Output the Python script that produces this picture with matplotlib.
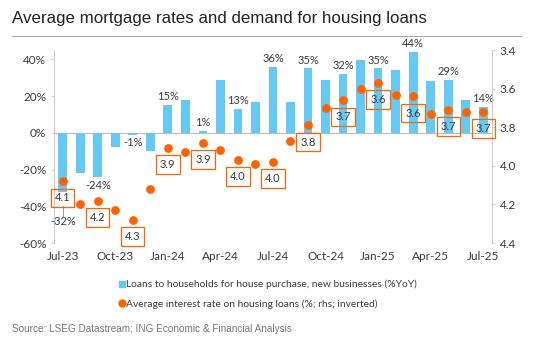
import matplotlib.pyplot as plt
from matplotlib.lines import Line2D
import numpy as np

months = ['Jul-23', 'Aug-23', 'Sep-23', 'Oct-23', 'Nov-23', 'Dec-23',
          'Jan-24', 'Feb-24', 'Mar-24', 'Apr-24', 'May-24', 'Jun-24',
          'Jul-24', 'Aug-24', 'Sep-24', 'Oct-24', 'Nov-24', 'Dec-24',
          'Jan-25', 'Feb-25', 'Mar-25', 'Apr-25', 'May-25', 'Jun-25', 'Jul-25']
loans_yoy = [-32, -22, -24, -7.5, -1, -10,
             15, 18, 1, 29, 13, 17,
             36, 17, 35, 29, 32, 39.5,
             35, 34, 44, 28, 29, 18, 14]
rate = [4.08, 4.20, 4.18, 4.23, 4.28, 4.12,
        3.905, 3.93, 3.88, 3.92, 3.97, 3.99,
        3.98, 3.87, 3.79, 3.70, 3.66, 3.60,
        3.57, 3.635, 3.64, 3.73, 3.71, 3.72, 3.72]
tick_labels = ['Jul-23', 'Oct-23', 'Jan-24', 'Apr-24', 'Jul-24',
               'Oct-24', 'Jan-25', 'Apr-25', 'Jul-25']

blue = '#66C9F4'
orange = '#FF6200'
txt = '#3a3a3a'
plt.rcParams['font.family'] = ['Lato', 'DejaVu Sans']

fig = plt.figure(figsize=(5.33, 3.53), dpi=100)
ax = fig.add_axes([0.1013, 0.3116, 0.8217, 0.5464])
ax2 = ax.twinx()
ax.set_zorder(ax2.get_zorder() - 1)
ax2.patch.set_visible(False)

x = np.arange(len(months))
ax.bar(x, loans_yoy, width=0.5, color=blue, zorder=2)
ax.axhline(0, color='#bbbbbb', lw=0.8, zorder=1)
ax.set_ylim(-60, 45)
ax.set_xlim(-0.5, len(months) - 0.5)
ax.set_yticks([-60, -40, -20, 0, 20, 40])
ax.set_yticklabels([f'{v}%' for v in [-60, -40, -20, 0, 20, 40]])
ax.set_xticks([months.index(m) for m in tick_labels])
ax.set_xticklabels(tick_labels)

# bar labels on every other month
for i in range(0, len(months), 2):
    v = loans_yoy[i]
    if i == 0:
        # first label sits under the rate box, with a small leader line
        ax.plot([i, i], [v - 8, v - 14], color='#999999', lw=0.7, zorder=3)
        ax.text(i, v - 13.5, f'{v:.0f}%', ha='center', va='top', fontsize=8, color=txt)
    elif v >= 0:
        ax.annotate(f'{v:.0f}%', (i, v), xytext=(0, 2), textcoords='offset points',
                    ha='center', va='bottom', fontsize=8, color=txt)
    else:
        ax.annotate(f'{v:.0f}%', (i, v), xytext=(0, -2), textcoords='offset points',
                    ha='center', va='top', fontsize=8, color=txt)

ax2.scatter(x, rate, s=40, color=orange, zorder=4, linewidths=0)
ax2.set_ylim(4.4, 3.4)
ax2.set_yticks([3.4, 3.6, 3.8, 4.0, 4.2, 4.4])
ax2.set_yticklabels(['3.4', '3.6', '3.8', '4.0', '4.2', '4.4'])
for i in range(0, len(months), 2):
    ax2.annotate(f'{rate[i]:.1f}', (i, rate[i]), xytext=(0, -12), textcoords='offset points',
                 ha='center', va='center', fontsize=8, color=txt,
                 bbox=dict(boxstyle='square,pad=0.35', fc='none', ec=orange, lw=0.9))

for a in (ax, ax2):
    for s in ('top', 'bottom', 'left', 'right'):
        a.spines[s].set_visible(False)
    a.tick_params(colors=txt, labelsize=8.5, length=2, width=0.6)
    a.tick_params(axis='y', color='#cccccc')
ax.spines['left'].set_visible(True)
ax.spines['left'].set_color('#cccccc')
ax2.spines['right'].set_visible(True)
ax2.spines['right'].set_color('#cccccc')
ax.tick_params(axis='x', length=0, pad=6)

handles = [Line2D([], [], marker='s', ls='', color=blue, markersize=5),
           Line2D([], [], marker='o', ls='', color=orange, markersize=5)]
labels = ['Loans to households for house purchase, new businesses (%YoY)',
          'Average interest rate on housing loans (%; rhs; inverted)']
fig.legend(handles, labels, loc='upper left', bbox_to_anchor=(0.215, 0.222),
           frameon=False, fontsize=7.4, handlelength=0.5, handletextpad=0.15,
           labelspacing=0.95, borderpad=0, labelcolor=txt)

fig.text(0.022, 0.949, 'Average mortgage rates and demand for housing loans',
         fontsize=12.2, color='#222222', va='center', family='Liberation Sans')
fig.add_artist(Line2D([0.022, 0.978], [0.898, 0.898], color='#aaaaaa', lw=0.8))
fig.text(0.022, 0.068, 'Source: LSEG Datastream; ING Economic & Financial Analysis',
         fontsize=7.2, color='#777777', va='center', family='Liberation Sans')

fig.savefig('out.png', dpi=100)
